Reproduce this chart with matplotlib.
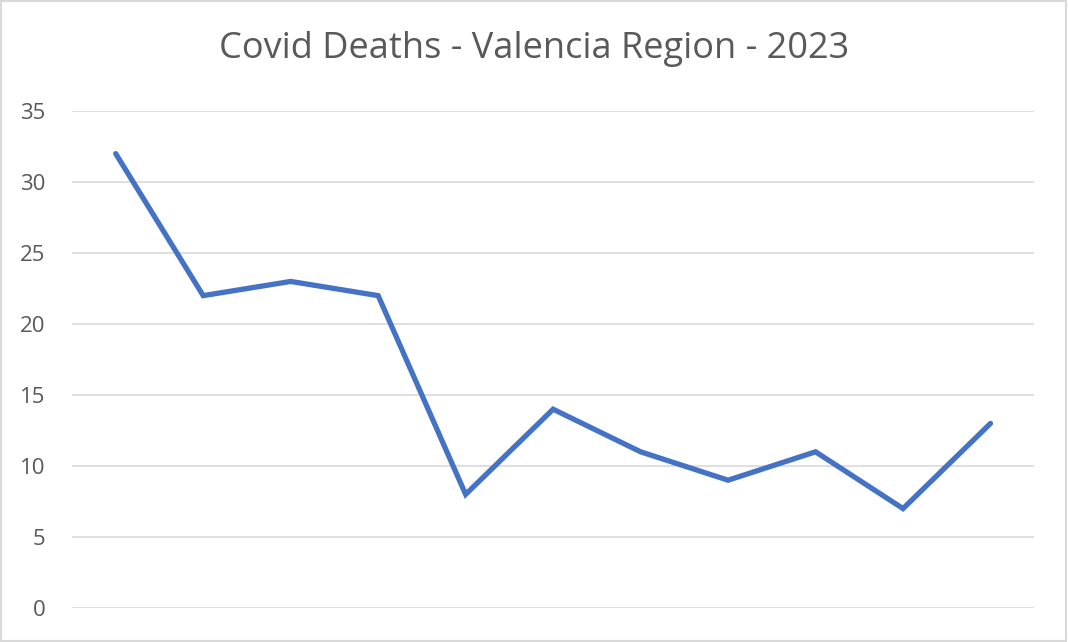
import matplotlib
matplotlib.use("Agg")
import matplotlib.pyplot as plt
from matplotlib.patches import Rectangle

# datos
months = ["Jan", "Feb", "Mar", "Apr", "May", "Jun", "Jul", "Aug", "Sep", "Oct", "Nov"]
deaths = [32, 22, 23, 22, 8, 14, 11, 9, 11, 7, 13]
yticks = [0, 5, 10, 15, 20, 25, 30, 35]

plt.rcParams['font.family'] = ['Open Sans', 'DejaVu Sans']

fig = plt.figure(figsize=(10.68, 6.42), dpi=100)
ax = fig.add_axes([0.0674, 0.053, 0.901, 0.774])

x = list(range(len(months)))
ax.plot(x, deaths, color="#4472C4", linewidth=3.8, solid_capstyle="round", solid_joinstyle="miter", zorder=3)

ax.set_xlim(-0.5, len(months) - 0.5)
ax.set_ylim(0, 35)
ax.set_yticks(yticks)
ax.set_xticks([])
ax.grid(axis="y", color="#d9d9d9", linewidth=1.2)
ax.set_axisbelow(True)
for s in ax.spines.values():
    s.set_visible(False)
ax.tick_params(axis="y", length=0, pad=19, labelsize=16, labelcolor="#595959")

fig.text(0.5, 0.924, "Covid Deaths - Valencia Region - 2023", ha="center", va="center",
         fontsize=26, color="#595959")

# borde
fig.patches.append(Rectangle((0.001, 0.002), 0.997, 0.996, transform=fig.transFigure,
                             fill=False, edgecolor="#d9d9d9", linewidth=1.5))

fig.savefig("out.png", dpi=100)
